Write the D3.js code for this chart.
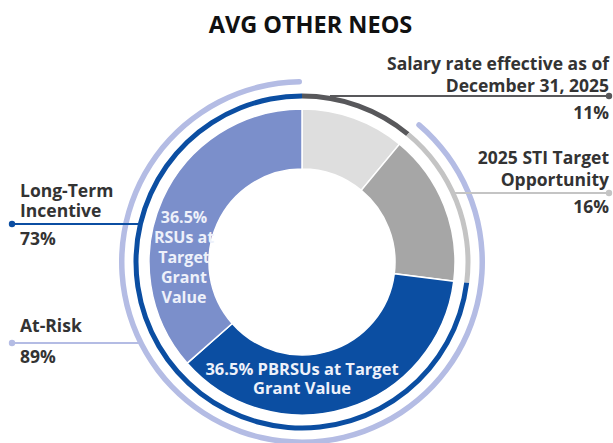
<!DOCTYPE html>
<html>
<head>
<meta charset="utf-8">
<script src="https://cdn.jsdelivr.net/npm/d3@7"></script>
<style>
  html, body { margin: 0; padding: 0; background: #fff; }
  svg { display: block; font-family: "Open Sans", "Noto Sans", sans-serif; }
</style>
</head>
<body>
<svg id="chart" width="613" height="443"></svg>
<script>
// ---- Data ----
const title = "AVG OTHER NEOS";
const sliceNames = ["Salary", "STI", "PBRSUs", "RSUs"];
const sliceValues = [11, 16, 36.5, 36.5];
const ringNames = ["Salary", "STI", "Long-Term Incentive"];
const ringValues = [11, 16, 73];
const atRiskRange = [11, 100]; // At-Risk 89%
const labelLines = {
  salary: ["Salary rate effective as of", "December 31, 2025"],
  sti: ["2025 STI Target", "Opportunity"],
  lti: ["Long-Term", "Incentive"],
  risk: ["At-Risk"]
};
const labelPcts = { salary: "11%", sti: "16%", lti: "73%", risk: "89%" };
const rsuLabel = ["36.5%", "RSUs at", "Target", "Grant", "Value"];
const pbrsuLabel = ["36.5% PBRSUs at Target", "Grant Value"];

// ---- Styles ----
const sliceColors = { Salary: "#dedede", STI: "#a6a6a6", PBRSUs: "#0b4ea2", RSUs: "#7b8fcb" };
const ringColors = { Salary: "#58585b", STI: "#c4c4c4", "Long-Term Incentive": "#0b4ea2" };
const riskColor = "#b4bce4";
const textColor = "#333333";

const svg = d3.select("#chart");
const cx = 302, cy = 262;
const g = svg.append("g").attr("transform", `translate(${cx},${cy})`);

const angle = d3.scaleLinear().domain([0, 100]).range([0, 2 * Math.PI]);

// main slices
const pie = d3.pie().sort(null).value(d => d.v).startAngle(0).endAngle(2 * Math.PI);
const sliceData = pie(sliceNames.map((n, i) => ({ n, v: sliceValues[i] })));
const arcMain = d3.arc().innerRadius(93).outerRadius(153);
g.selectAll("path.slice").data(sliceData).enter().append("path")
  .attr("class", "slice")
  .attr("d", arcMain)
  .attr("fill", d => sliceColors[d.data.n])
  .attr("stroke", "#fff").attr("stroke-width", 1.5);

// component ring
const ringData = pie(ringNames.map((n, i) => ({ n, v: ringValues[i] })));
const arcRing = d3.arc().innerRadius(163.5).outerRadius(168.5);
g.selectAll("path.ring").data(ringData).enter().append("path")
  .attr("class", "ring")
  .attr("d", arcRing)
  .attr("fill", d => ringColors[d.data.n]);

// at-risk ring
const arcRisk = d3.arc().innerRadius(177.5).outerRadius(183).cornerRadius(2.75);
g.append("path")
  .attr("d", arcRisk({ startAngle: angle(atRiskRange[0]), endAngle: angle(atRiskRange[1]) }))
  .attr("fill", riskColor);

function xOnCircle(y, r, side) {
  const dy = y - cy;
  return cx + side * Math.sqrt(Math.max(0, r * r - dy * dy));
}

function leader(y, x0, x1, color, dotX) {
  svg.append("line").attr("x1", x0).attr("x2", x1).attr("y1", y).attr("y2", y)
    .attr("stroke", color).attr("stroke-width", 2);
  svg.append("circle").attr("cx", dotX).attr("cy", y).attr("r", 3.2).attr("fill", color);
}

leader(96, 330, 609, ringColors.Salary, 609);
leader(193, xOnCircle(193, 166, 1), 609, ringColors.STI, 609);
leader(224, 12, xOnCircle(224, 166, -1), ringColors["Long-Term Incentive"], 12);
leader(343, 12, xOnCircle(343, 180, -1), riskColor, 12);

// title
svg.append("text").attr("x", 310.5).attr("y", 33).attr("text-anchor", "middle")
  .attr("font-size", 23.5).attr("font-weight", 700).attr("fill", "#111")
  .text(title);

// multi-line block as one text element with tspans
function block(lines, x, y0, lh, anchor, size, color) {
  const t = svg.append("text").attr("x", x).attr("y", y0)
    .attr("text-anchor", anchor).attr("font-size", size)
    .attr("font-weight", 700).attr("fill", color);
  lines.forEach((s, i) => {
    t.append("tspan").attr("x", x).attr("dy", i === 0 ? 0 : lh).text(s);
  });
}
const LS = 17.5;
block(labelLines.salary, 609, 70, 22, "end", LS, textColor);
block([labelPcts.salary], 609, 119, 22, "end", LS, textColor);
block(labelLines.sti, 609, 164, 22, "end", LS, textColor);
block([labelPcts.sti], 609, 213, 22, "end", LS, textColor);
block(labelLines.lti, 20, 197, 20, "start", LS, textColor);
block([labelPcts.lti], 20, 245, 20, "start", LS, textColor);
block(labelLines.risk, 20, 332, 20, "start", LS, textColor);
block([labelPcts.risk], 20, 363, 20, "start", LS, textColor);

block(rsuLabel, 184, 223, 20, "middle", 16, "#eef1fa");
block(pbrsuLabel, 302, 375, 18.5, "middle", 16.5, "#eef1fa");
</script>
</body>
</html>
